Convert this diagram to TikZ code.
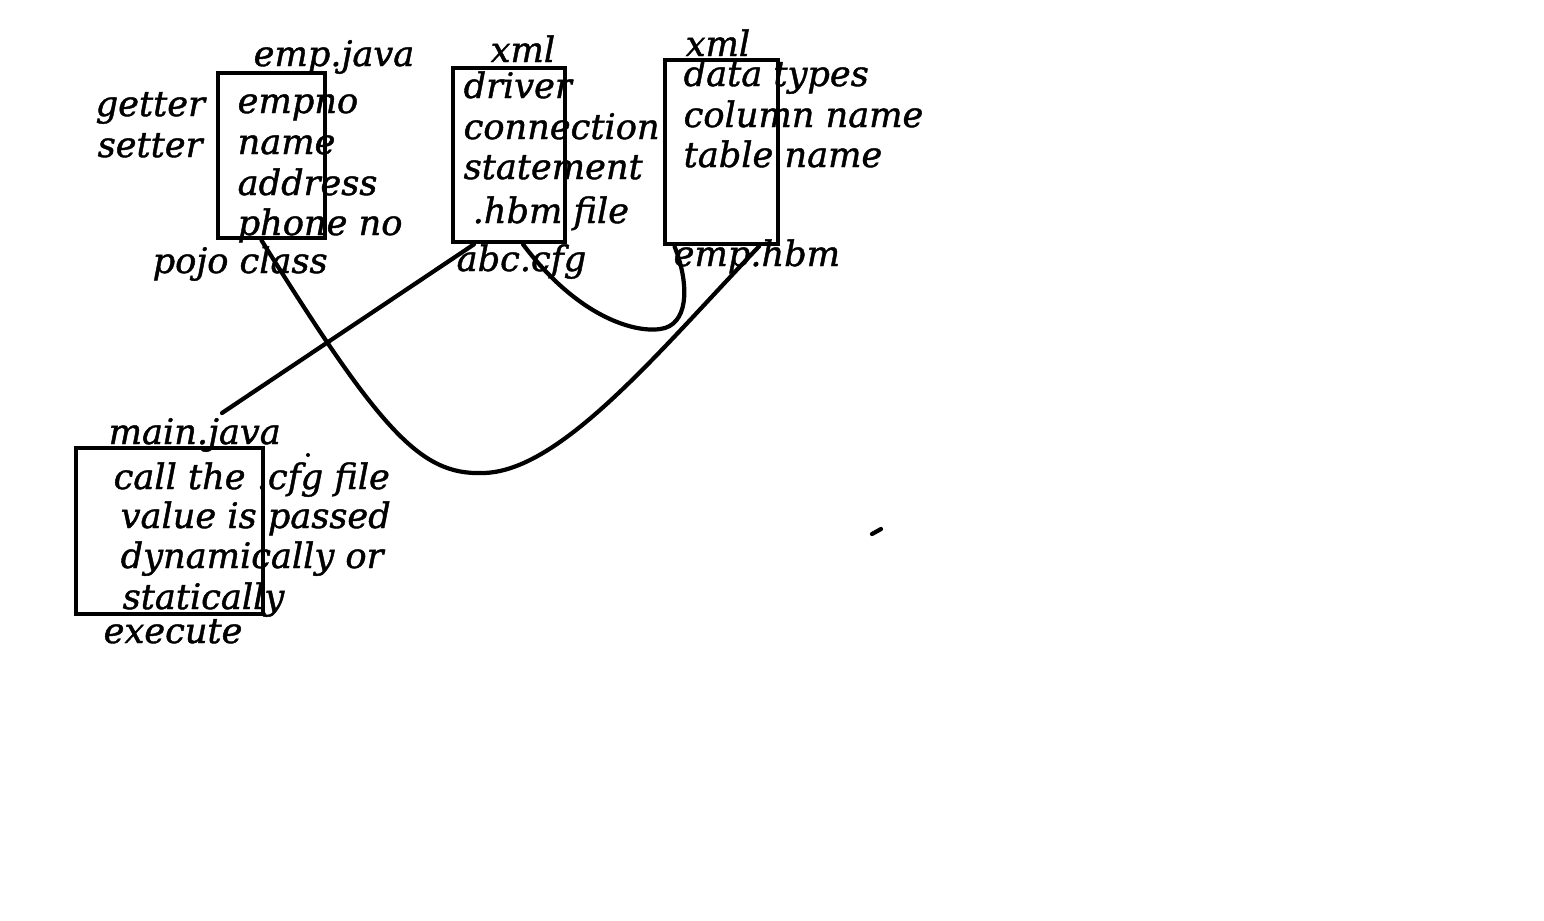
\documentclass[tikz,border=0pt]{standalone}
\usepackage{fontspec}
\setmainfont{DejaVu Serif}[ItalicFeatures={FakeBold=1.2}]
\usetikzlibrary{calc}

\begin{document}
\begin{tikzpicture}[x=0.01cm, y=-0.01cm,
    box/.style ={rectangle, draw=black, line width=0.045cm, fill=none,
      inner sep=0pt},
    word/.style ={inner sep=0pt, anchor=base west,
      font=\fontsize{10}{12}\selectfont\itshape},
    line/.style ={draw, line width=0.042cm, line cap=round}]
    \useasboundingbox (0,0) rectangle (1544,920);
    % the four boxes
    \node [box, minimum width=1.07cm, minimum height=1.65cm] (empbox) at (271.5,155.5) {};
    \node [box, minimum width=1.12cm, minimum height=1.74cm] (cfgbox) at (509,155) {};
    \node [box, minimum width=1.13cm, minimum height=1.84cm] (hbmbox) at (721.5,152) {};
    \node [box, minimum width=1.87cm, minimum height=1.66cm] (mainbox) at (169.5,531) {};
    % pojo class
    \node [word] (empjava) at (253,66) {emp.java};
    \node [word] (getter) at (95,116) {getter};
    \node [word] (setter) at (97,157) {setter};
    \node [word] (empno) at (237,113) {empno};
    \node [word] (name) at (237,154) {name};
    \node [word] (address) at (237,195) {address};
    \node [word] (phoneno) at (237,235) {phone no};
    \node [word] (pojo) at (152,273) {pojo class};
    % abc.cfg
    \node [word] (cfgxml) at (490,62) {xml};
    \node [word] (driver) at (463,98) {driver};
    \node [word] (connection) at (463,139) {connection};
    \node [word] (statement) at (463,179) {statement};
    \node [word] (hbmfile) at (472,223) {.hbm file};
    \node [word] (abccfg) at (456,271) {abc.cfg};
    % emp.hbm
    \node [word] (hbmxml) at (685,56) {xml};
    \node [word] (datatypes) at (683,86) {data types};
    \node [word] (columnname) at (683,127) {column name};
    \node [word] (tablename) at (683,167) {table name};
    \node [word] (emphbm) at (673,266) {emp.hbm};
    % main.java
    \node [word] (mainjava) at (108,444) {main.java};
    \node [word] (callcfg) at (113,489) {call the .cfg file};
    \node [word] (valuepassed) at (120,528) {value is passed};
    \node [word] (dynamically) at (120,568) {dynamically or};
    \node [word] (statically) at (122,609) {statically};
    \node [word] (execute) at (103,643) {execute};
    \coordinate (maintop) at (222,413);
    % connecting boxes
    \begin{scope}[every path/.style=line]
      \path (maintop) -- ($(cfgbox.south west)!0.2!(cfgbox.south east)$);
      \path ($(empbox.south west)!0.41!(empbox.south east)$)
        .. controls (380,430) and (420,475) .. (482,473)
        .. controls (560,473) and (660,350) .. ($(hbmbox.south west)!0.82!(hbmbox.south east)$);
      \path ($(cfgbox.south west)!0.62!(cfgbox.south east)$)
        .. controls (580,320) and (640,335) .. (665,328)
        .. controls (690,320) and (688,280) .. ($(hbmbox.south west)!0.1!(hbmbox.south east)$);
      \path (872,534) -- (881,529);
    \end{scope}
    \fill (308,455) circle (0.02cm);
\end{tikzpicture}
\end{document}
